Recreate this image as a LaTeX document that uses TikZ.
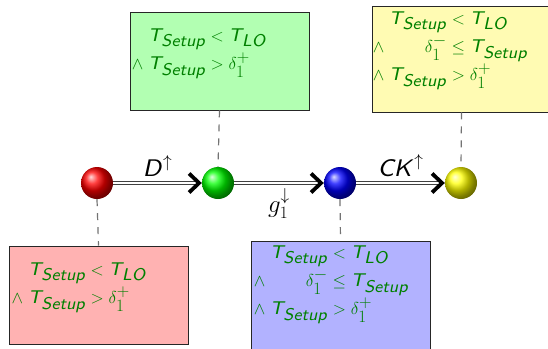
\documentclass[tikz,border=0pt]{standalone}
\usepackage{amsmath}
\usetikzlibrary{arrows.meta,shadings}
\DeclareFontFamily{OT1}{mysfit}{}
\DeclareFontShape{OT1}{mysfit}{m}{sl}{<-> cmssi8}{}
\DeclareMathAlphabet{\mathsfit}{OT1}{mysfit}{m}{sl}
\DeclareMathSizes{18.5}{18.5}{17}{14.4}
\DeclareMathSizes{24}{24}{17.28}{14.4}
\newcommand\Tst{\mathsfit{T}_{\mathsfit{Setup}}}
\newcommand\Tlo{\mathsfit{T}_{\mathsfit{LO}}}
\renewcommand\arraystretch{1.25}
\begin{document}
\begin{tikzpicture}[x=1pt,y=-1pt,
  ball/.style={circle, minimum size=32pt, inner sep=0pt, shading=ball},
  condbox/.style={draw=black!85, line width=0.9pt, inner sep=0pt, minimum width=179pt},
  condtext/.style={text=green!50!black, inner sep=0pt, anchor=north west, font=\fontsize{18.5}{22}\selectfont},
  conn/.style={draw=black!75, double=white, double distance=2pt, line width=1pt, shorten >=5pt},
  tipstyle/.style={-{Straight Barb[length=10pt,width=19pt,line width=3.8pt]}, line width=3.8pt},
  link/.style={draw=black!55, line width=1.2pt, dash pattern=on 7pt off 7pt},
  lbl/.style={font=\fontsize{24}{28}\selectfont, inner sep=2pt}]
\useasboundingbox (0,0) rectangle (548,348);
% boxes
\node[condbox, fill=green!30, minimum height=98pt] (gbox) at (219.5,61) {};
\node[condbox, fill=yellow!30, minimum height=106pt] (ybox) at (461.5,59) {};
\node[condbox, fill=red!30, minimum height=98pt] (rbox) at (98.5,295) {};
\node[condbox, fill=blue!30, minimum height=108pt] (bbox) at (340.5,295) {};
% balls
\node[ball, ball color=red] (r) at (97,183) {};
\node[ball, ball color=green] (g) at (218,183) {};
\node[ball, ball color=blue] (b) at (340,183) {};
\node[ball, ball color=yellow] (y) at (461,183) {};
% dashed links
\draw[link] (gbox.south) -- (g.north);
\draw[link] (ybox.south) -- (y.north);
\draw[link] (r.south) -- (rbox.north);
\draw[link] (b.south) -- (bbox.north);
% arrows
\draw[conn] (r) -- node[lbl, above=4pt] (dl) {$\mathsfit{D}^{\uparrow}$} (g);
\draw[tipstyle] ([xshift=-6pt]g.west) -- (g.west);
\draw[conn] (g) -- node[lbl, below=3pt] (gl) {$g_1^{\downarrow}$} (b);
\draw[tipstyle] ([xshift=-6pt]b.west) -- (b.west);
\draw[conn] (b) -- node[lbl, above=4pt] (cl) {$\mathsfit{CK}^{\uparrow}$} (y);
\draw[tipstyle] ([xshift=-6pt]y.west) -- (y.west);
% texts
\node[condtext] (gt) at ([shift={(2,10)}]gbox.north west)
  {$\begin{array}{@{}l@{\;}r@{\;}c@{\;}l@{}} & \Tst & < & \Tlo\\ \wedge & \Tst & > & \delta_1^+\end{array}$};
\node[condtext] (rt) at ([shift={(3,10)}]rbox.north west)
  {$\begin{array}{@{}l@{\;}r@{\;}c@{\;}l@{}} & \Tst & < & \Tlo\\ \wedge & \Tst & > & \delta_1^+\end{array}$};
\node[condtext] (yt) at ([shift={(1,-1)}]ybox.north west)
  {$\begin{array}{@{}l@{\;}r@{\;}c@{\;}l@{}} & \Tst & < & \Tlo\\ \wedge & \delta_1^- & \leq & \Tst\\ \wedge & \Tst & > & \delta_1^+\end{array}$};
\node[condtext] (bt) at ([shift={(3,-2)}]bbox.north west)
  {$\begin{array}{@{}l@{\;}r@{\;}c@{\;}l@{}} & \Tst & < & \Tlo\\ \wedge & \delta_1^- & \leq & \Tst\\ \wedge & \Tst & > & \delta_1^+\end{array}$};
\end{tikzpicture}
\end{document}
